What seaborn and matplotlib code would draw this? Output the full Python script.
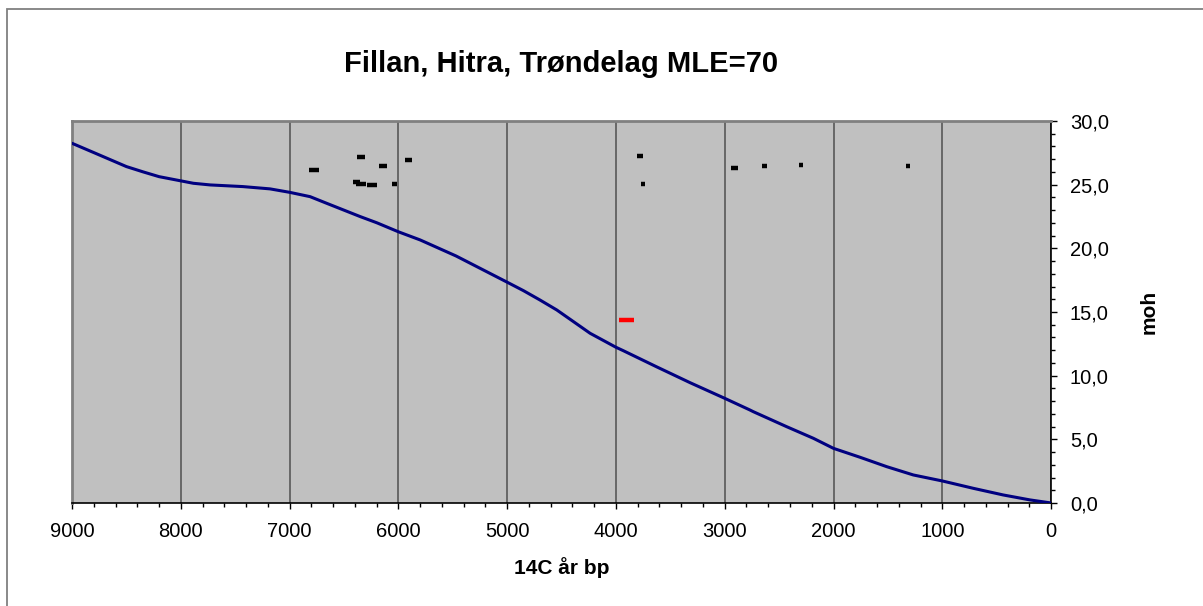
import numpy as np
import pandas as pd
import matplotlib
matplotlib.use("Agg")
import matplotlib.pyplot as plt
import matplotlib.patches as patches
from matplotlib.ticker import MultipleLocator, FuncFormatter
import seaborn as sns

# shoreline displacement curve (14C years bp -> metres above sea level)
curve_age = [9000, 8800, 8500, 8345, 8200, 8000, 7885, 7730, 7430, 7180, 7000,
             6812, 6660, 6350, 6199, 6000, 5800, 5470, 5000, 4851, 4700, 4544,
             4390, 4238, 4000, 3932, 3630, 3319, 3000, 2770, 2737, 2430, 2185,
             2000, 1756, 1510, 1266, 1000, 714, 440, 193, 0]
curve_moh = [28.25, 27.52, 26.42, 26.0, 25.63, 25.3, 25.11, 24.98, 24.85, 24.67,
             24.4, 24.06, 23.54, 22.49, 22.01, 21.3, 20.66, 19.4, 17.34, 16.68,
             15.95, 15.16, 14.24, 13.33, 12.23, 11.96, 10.71, 9.45, 8.22, 7.31,
             7.17, 5.99, 5.08, 4.29, 3.59, 2.85, 2.2, 1.73, 1.15, 0.63, 0.24, 0.0]

# dated sites (centre age, height, half of age span)
site_age = [6778, 6343, 6141, 5905, 6385, 6343, 6242, 6037, 3777, 3749, 2908,
            2636, 2298, 1312]
site_moh = [26.15, 27.15, 26.47, 26.94, 25.19, 25.08, 24.95, 25.05, 27.25, 25.05,
            26.33, 26.44, 26.55, 26.44]
site_span = [46, 40, 37, 31, 32, 46, 43, 25, 29, 17, 34, 25, 18, 18]

# highlighted site
red_age = [3905]
red_moh = [14.4]
red_span = [68]

sns.set_style("white", {"axes.facecolor": "#C0C0C0"})
plt.rcParams["font.family"] = ["Liberation Sans", "DejaVu Sans"]
plt.rcParams.update({
    "text.color": "black",
    "axes.labelcolor": "black",
    "xtick.color": "black",
    "ytick.color": "black",
})

fig, ax = plt.subplots(figsize=(12.03, 6.06), dpi=100)
fig.subplots_adjust(left=0.0599, right=0.8737, top=0.8003, bottom=0.170)

curve = pd.DataFrame({"age": curve_age, "moh": curve_moh})
sns.lineplot(data=curve, x="age", y="moh", sort=False, color="#000080",
             linewidth=2.2, ax=ax, zorder=3)

age = np.array(site_age)
span = np.array(site_span)
ax.hlines(site_moh, age - span, age + span, colors="black", linewidth=3.2, zorder=4)
ra = np.array(red_age)
rs = np.array(red_span)
ax.hlines(red_moh, ra - rs, ra + rs, colors="#FF0000", linewidth=3.2, zorder=4)

ax.set_xlim(9000, 0)
ax.set_ylim(0, 30)
ax.xaxis.set_major_locator(MultipleLocator(1000))
ax.xaxis.set_minor_locator(MultipleLocator(200))
ax.yaxis.set_major_locator(MultipleLocator(5))
ax.yaxis.set_minor_locator(MultipleLocator(1))
ax.yaxis.set_major_formatter(FuncFormatter(lambda v, p: f"{v:.1f}".replace(".", ",")))
ax.yaxis.tick_right()
ax.yaxis.set_label_position("right")

ax.grid(axis="x", which="major", color="#606060", linewidth=1.3)
ax.grid(axis="y", visible=False)
ax.set_axisbelow(True)

ax.tick_params(axis="both", which="major", direction="out", length=4.5, width=1,
               color="black", labelsize=14.5, pad=9, bottom=True, right=True,
               left=False)
ax.tick_params(axis="both", which="minor", direction="out", length=3, width=1,
               color="black", bottom=True, right=True, left=False)

for side in ["top", "left"]:
    ax.spines[side].set_color("#808080")
    ax.spines[side].set_linewidth(2)
for side in ["right", "bottom"]:
    ax.spines[side].set_color("black")
    ax.spines[side].set_linewidth(1.2)

ax.set_title("Fillan, Hitra, Trøndelag MLE=70", fontsize=21, fontweight="bold",
             pad=35)
ax.set_xlabel("14C år bp", fontsize=15, fontweight="bold", labelpad=12)
ax.set_ylabel("moh", fontsize=15, fontweight="bold", labelpad=22)

frame = patches.Rectangle((7 / 1203, -0.5), 2, 0.5 + 1 - 9 / 606,
                          transform=fig.transFigure, fill=False,
                          edgecolor="#808080", linewidth=1.3, clip_on=False)
fig.patches.append(frame)

fig.savefig("out.png", dpi=100)
